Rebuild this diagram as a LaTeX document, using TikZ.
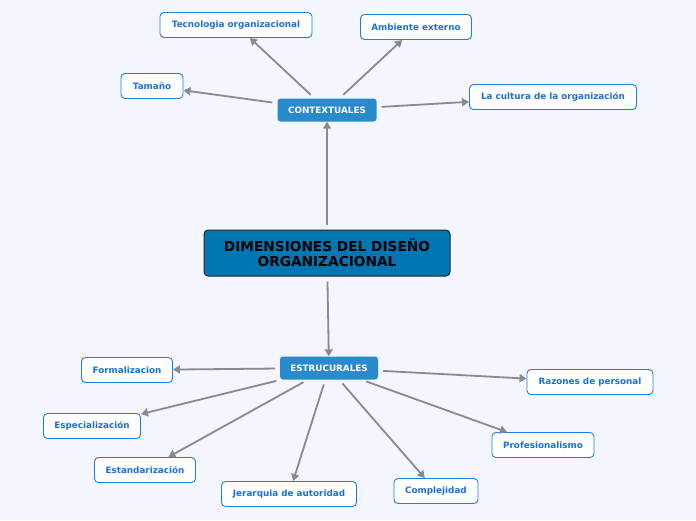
\documentclass[tikz,border=0pt]{standalone}
\usepackage{fontspec}
\setmainfont{DejaVu Sans}
\usepackage{tikz}
\usetikzlibrary{shapes.geometric, arrows, calc, positioning, arrows.meta}
\definecolor{bgcol}{HTML}{F3F6FE}
\definecolor{maincol}{HTML}{0076B3}
\definecolor{subcol}{HTML}{2A8BCC}
\definecolor{leafcol}{HTML}{1E7FE0}
\definecolor{leaftext}{HTML}{1A70D8}
\definecolor{linecol}{HTML}{888A92}
\tikzstyle{main} = [draw=black!85, fill=maincol, rounded corners=4pt, line width=1pt, minimum width=246pt, minimum height=46pt, align=center, font=\fontsize{13.7}{15}\selectfont\bfseries, text=black, inner sep=2pt]
\tikzstyle{sub} = [fill=subcol, rounded corners=3pt, minimum height=23pt, font=\fontsize{8.8}{10}\selectfont\bfseries, text=white, inner sep=2pt]
\tikzstyle{leaf} = [draw=leafcol, fill=white, rounded corners=4pt, line width=0.9pt, minimum height=25pt, font=\fontsize{8.8}{10}\selectfont\bfseries, text=leaftext, inner sep=2pt]
\tikzstyle{arrow} = [draw=linecol, line width=1.8pt, -{Triangle[width=8pt,length=7pt]}, shorten <=5pt]

\begin{document}
\begin{tikzpicture}[x=1pt, y=-1pt]
	\useasboundingbox[fill=bgcol] (0,0) rectangle (696,520);
	% centre
	\node (dim) [main] at (327,253) {DIMENSIONES DEL DISEÑO\\ORGANIZACIONAL};
	% contextuales
	\node (ctx) [sub, minimum width=99pt] at (327,110) {CONTEXTUALES};
	\node (tec) [leaf, minimum width=152pt] at (236,25) {Tecnologia organizacional};
	\node (amb) [leaf, minimum width=111pt] at (416,27) {Ambiente externo};
	\node (tam) [leaf, minimum width=62pt] at (152,86) {Tamaño};
	\node (cul) [leaf, minimum width=167pt] at (553,97) {La cultura de la organización};
	% estructurales
	\node (est) [sub, minimum width=98pt] at (329,368) {ESTRUCURALES};
	\node (for) [leaf, minimum width=91pt] at (127,370) {Formalizacion};
	\node (esp) [leaf, minimum width=97pt] at (92,426) {Especialización};
	\node (std) [leaf, minimum width=101pt] at (145,470) {Estandarización};
	\node (jer) [leaf, minimum width=135pt] at (289,494) {Jerarquia de autoridad};
	\node (com) [leaf, minimum width=84pt] at (436,491) {Complejidad};
	\node (pro) [leaf, minimum width=102pt] at (543,445) {Profesionalismo};
	\node (raz) [leaf, minimum width=126pt] at (590,382) {Razones de personal};

	\draw[arrow] (dim) -- (ctx);
	\draw[arrow] (dim) -- (est);
	\foreach \n in {tec, amb, tam, cul}
		\draw[arrow] (ctx) -- (\n);
	\foreach \n in {for, esp, std, jer, com, pro, raz}
		\draw[arrow] (est) -- (\n);
\end{tikzpicture}
\end{document}
